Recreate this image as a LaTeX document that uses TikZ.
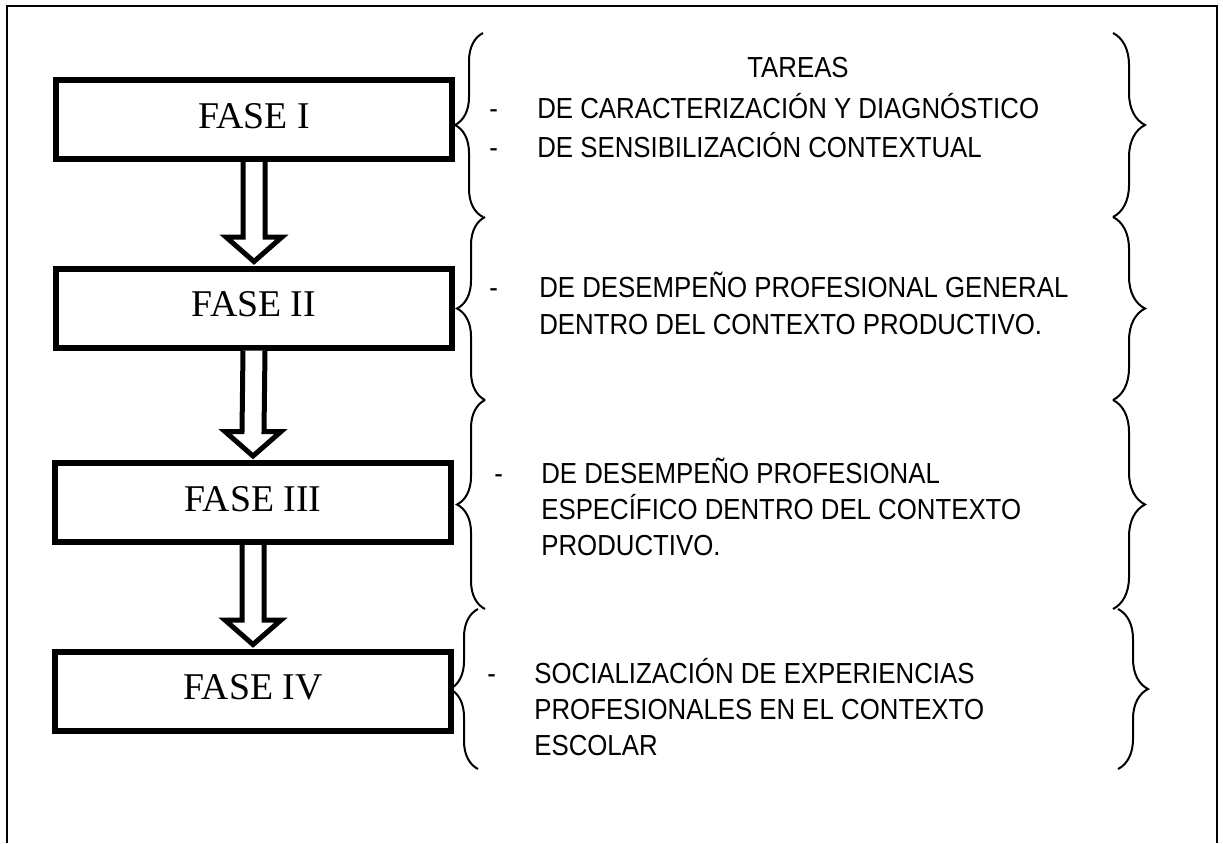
\documentclass[tikz,border=0pt]{standalone}
\usepackage{fontspec}
\setmainfont{Liberation Serif}
\newfontfamily\tareafont[FakeStretch=0.89]{Liberation Sans}
\usetikzlibrary{calc,decorations.pathreplacing}

\tikzset{
    fase/.style={draw, line width=0.12cm, minimum width=7.92cm, minimum height=1.58cm,
        inner sep=0pt, text depth=0.16cm, font=\fontsize{21.5}{24}\selectfont},
    blockarrow/.style={draw, line width=0.1cm, miter limit=20, fill=white},
    llave/.style={decorate, decoration={brace, amplitude=#1}, line width=0.04cm},
    tarea/.style={inner sep=0pt, anchor=base west, font=\tareafont\fontsize{16.5}{#1}\selectfont}
}

\begin{document}
\begin{tikzpicture}[x=0.02cm, y=-0.02cm]
                \useasboundingbox (0,0) rectangle (1223,843);
                \draw[line width=0.04cm] (7,843) -- (7,6) -- (1217,6) -- (1217,843);

                \node[fase] (f1) at (254,119.5) {FASE I};
                \node[fase] (f2) at (254,308) {FASE II};
                \node[fase] (f3) at (253,502.5) {FASE III};
                \node[fase] (f4) at (253,691) {FASE IV};

                \foreach \a/\b in {f1/f2, f2/f3, f3/f4} {
                    \draw[blockarrow] ($(\a.south)+(-11,0)$) -- ($(\b.north)+(-11,-28.5)$)
                        -- ($(\b.north)+(-28,-28.5)$) -- ($(\b.north)+(0,-4)$)
                        -- ($(\b.north)+(28,-28.5)$) -- ($(\b.north)+(11,-28.5)$)
                        -- ($(\a.south)+(11,0)$);
                }

                \foreach \ya/\yb/\xl in {33/217/483, 217/400/485, 400/609/485, 609/769/478} {
                    \draw[llave=0.56cm] (\xl,\yb) -- (\xl,\ya);
                }
                \foreach \ya/\yb/\xr/\amp in {33/217/1113/0.64cm, 217/400/1113/0.64cm, 400/609/1113/0.64cm, 609/769/1118/0.6cm} {
                    \draw[llave=\amp] (\xr,\ya) -- (\xr,\yb);
                }

                \node[tarea=22.2, anchor=base] (tareas) at (798,77) {TAREAS};
                \node[tarea=22.2] (t1) at (489,118) {\begin{tabular}[t]{@{}p{0.96cm}@{}l@{}}
                    - & DE CARACTERIZACIÓN Y DIAGNÓSTICO\\
                    - & DE SENSIBILIZACIÓN CONTEXTUAL
                \end{tabular}};
                \node[tarea=21.6] (t2) at (489,297) {\begin{tabular}[t]{@{}p{1cm}@{}l@{}}
                    - & DE DESEMPEÑO PROFESIONAL GENERAL\\
                      & DENTRO DEL CONTEXTO PRODUCTIVO.
                \end{tabular}};
                \node[tarea=20.5] (t3) at (494,483) {\begin{tabular}[t]{@{}p{0.94cm}@{}l@{}}
                    - & DE DESEMPEÑO PROFESIONAL\\
                      & ESPECÍFICO DENTRO DEL CONTEXTO\\
                      & PRODUCTIVO.
                \end{tabular}};
                \node[tarea=20.5] (t4) at (487,683) {\begin{tabular}[t]{@{}p{0.94cm}@{}l@{}}
                    - & SOCIALIZACIÓN DE EXPERIENCIAS\\
                      & PROFESIONALES EN EL CONTEXTO\\
                      & ESCOLAR
                \end{tabular}};
            \end{tikzpicture}
\end{document}
